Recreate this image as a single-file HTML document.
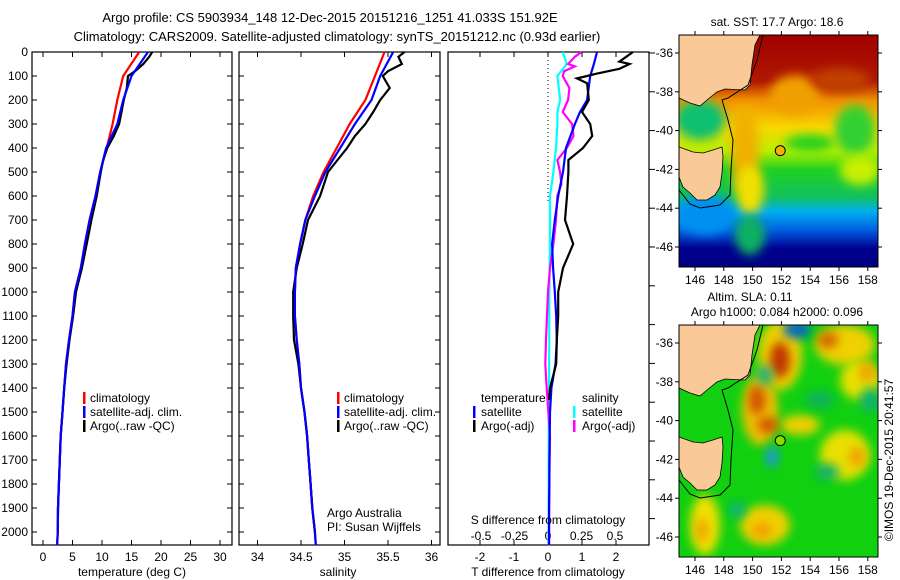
<!DOCTYPE html>
<html><head><meta charset="utf-8">
<style>
html,body{margin:0;padding:0;background:#fff;}
svg{display:block;font-family:"Liberation Sans",sans-serif;}
text{font-size:12px;fill:#000;}
</style></head>
<body>
<svg id="fig" width="900" height="580" viewBox="0 0 900 580" xmlns="http://www.w3.org/2000/svg">
<defs>
<linearGradient id="sstg" x1="0" y1="0" x2="0" y2="1">
<stop offset="0" stop-color="#a00000"/><stop offset="0.2" stop-color="#b01800"/>
<stop offset="0.28" stop-color="#f09000"/><stop offset="0.4" stop-color="#f8d800"/>
<stop offset="0.5" stop-color="#b8f000"/><stop offset="0.58" stop-color="#20d020"/>
<stop offset="0.7" stop-color="#10c060"/><stop offset="0.76" stop-color="#00b0f0"/>
<stop offset="0.84" stop-color="#0060e0"/><stop offset="0.92" stop-color="#000090"/>
<stop offset="1" stop-color="#000080"/></linearGradient>
<filter id="bl" x="-50%" y="-50%" width="200%" height="200%"><feGaussianBlur stdDeviation="5"/></filter>
<clipPath id="c1"><rect x="679" y="35" width="199" height="232"/></clipPath>
<clipPath id="c2"><rect x="679" y="325" width="199" height="232"/></clipPath>
</defs>
<text x="330" y="22" text-anchor="middle" style="font-size:13px">Argo profile: CS 5903934_148 12-Dec-2015 20151216_1251 41.033S 151.92E</text>
<text x="337" y="41" text-anchor="middle" style="font-size:13px">Climatology: CARS2009. Satellite-adjusted climatology: synTS_20151212.nc (0.93d earlier)</text>
<g id="plots"></g>
<g id="maps"></g>
</svg>
<script>
// ---- data ----
const depths = [0,100,200,300,400,500,600,700,800,900,1000,1100,1200,1300,1400,1500,1600,1700,1800,1900,2000,2055];
const tempClim = [16.3,13.6,12.6,11.8,10.8,9.7,8.9,7.9,7.1,6.4,5.4,5.0,4.4,3.9,3.6,3.3,3.0,2.85,2.7,2.55,2.5,2.35];
const tempSat  = [17.8,15.0,13.6,12.6,10.7,9.7,8.9,7.9,7.1,6.4,5.4,5.0,4.4,3.9,3.6,3.3,3.0,2.85,2.7,2.55,2.5,2.4];
const argoDepths = [0,20,50,80,100,150,200,250,300,350,400,450,500,600,700,800,900,1000,1100,1200,1300,1400,1500,1600,1700,1800,1900,2000];
const tempArgo = [18.5,18.0,17.0,15.6,14.4,14.2,13.7,13.3,12.9,12.0,10.9,10.2,9.8,9.1,8.2,7.4,6.6,5.6,5.1,4.5,4.0,3.6,3.3,3.0,2.85,2.7,2.55,2.5];
const salClim = [35.46,35.35,35.24,35.06,34.91,34.76,34.64,34.55,34.49,34.44,34.43,34.43,34.45,34.48,34.5,34.54,34.57,34.59,34.61,34.63,34.66,34.67];
const salSat  = [35.56,35.41,35.31,35.12,34.95,34.78,34.66,34.55,34.49,34.44,34.43,34.43,34.45,34.48,34.5,34.54,34.57,34.59,34.61,34.63,34.66,34.67];
const salArgo = [35.69,35.62,35.66,35.5,35.44,35.52,35.41,35.33,35.24,35.12,35.03,34.92,34.81,34.72,34.58,34.52,34.45,34.41,34.41,34.42,34.47,34.5,34.54,34.57,34.59,34.61,34.63,34.66];
const diffDepths = [0,50,100,200,250,300,400,500,600,700,800,900,1000,1100,1200,1300,1400,1500,1600,1700,1800,1900,2000,2055];
const dTsat = [1.44,1.35,1.24,1.15,0.94,0.79,0.53,0.44,0.3,0.2,0.12,0.15,0.2,0.24,0.26,0.22,0.1,0.06,0.05,0.04,0.04,0.03,0.03,0.03];
const dSsat = [0.11,0.14,0.07,0.09,0.07,0.07,0.06,0.04,0.015,0.015,0.015,0.012,0.01,0.01,0.01,0.008,0.008,0.006,0.006,0.005,0.005,0.005,0.005,0.005];
const argoDiffDepths = [0,20,40,50,70,90,100,110,130,200,250,300,350,400,450,500,600,700,800,900,1000,1100,1200,1300,1400,1450];
const dTargo = [2.5,2.3,2.1,2.4,2.1,1.44,1.15,0.85,1.15,1.2,1.0,1.24,1.3,1.03,0.6,0.6,0.56,0.5,0.74,0.44,0.3,0.3,0.26,0.24,0.06,0.03];
const dSargoDepths = [0,20,50,60,80,100,150,200,250,300,350,400,450,500,550,600,700,800,900,1000,1200,1300,1400,1600,1800,2000,2055];
const dSargo = [0.25,0.2,0.15,0.2,0.12,0.11,0.16,0.15,0.11,0.18,0.19,0.14,0.07,0.09,0.1,0.07,0.06,0.04,0.015,0,-0.015,-0.02,-0.01,0.015,0.01,0.008,0.008];
const depthTicks = [0,100,200,300,400,500,600,700,800,900,1000,1100,1200,1300,1400,1500,1600,1700,1800,1900,2000];
const tempTicks = [0,5,10,15,20,25,30];
const salTicks = [34,34.5,35,35.5,36];
const salTickLabels = ["34","34.5","35","35.5","36"];
const dTTicks = [-2,-1,0,1,2];
const dSTicks = [-0.5,-0.25,0,0.25,0.5];
const lonTicks = [146,148,150,152,154,156,158];
const latTicks = [-36,-38,-40,-42,-44,-46];

// ---- axes ----
const NS='http://www.w3.org/2000/svg';
const yD = d => 52 + 0.24*d;
const xT = t => 43 + 5.9*t;
const xS = s => 257.5 + 87*(s-34);
const xdT = v => 548 + 34*v;
const xdS = v => 548 + 134*v;
const xLon = l => 695 + (l-146)*14.4;
const yLat = (l,off) => off + 53 + (-36-l)*19.4;
const P = document.getElementById('plots');
const M = document.getElementById('maps');
function el(tag, attrs, parent, txt){const e=document.createElementNS(NS,tag);for(const k in attrs)e.setAttribute(k,attrs[k]);if(txt!==undefined)e.textContent=txt;(parent||P).appendChild(e);return e;}
function line(xs, ds, xf, color, name){
  const pts = xs.map((v,i)=>xf(v).toFixed(1)+','+yD(ds[i]).toFixed(1)).join(' ');
  const e = el('polyline',{points:pts,fill:'none',stroke:color,'stroke-width':2.2});
  
  
}
function frame(x0,x1,name){
  const r = el('rect',{x:x0,y:52,width:x1-x0,height:493,fill:'none',stroke:'#000','stroke-width':1.2});
  
  
}
function xticks(vals, f, labels, ylab){
  vals.forEach((v,i)=>{
    const x=f(v);
    el('line',{x1:x,x2:x,y1:52,y2:57,stroke:'#000'});
    el('line',{x1:x,x2:x,y1:540,y2:545,stroke:'#000'});
    if(labels){const t=el('text',{x:x,y:ylab,'text-anchor':'middle'},P,labels[i]);
      
      }
  });
}
function ytick(x0,x1){depthTicks.forEach(d=>{const y=yD(d);el('line',{x1:x0,x2:x0+5,y1:y,y2:y,stroke:'#000'});el('line',{x1:x1-5,x2:x1,y1:y,y2:y,stroke:'#000'});});}

// panel 1
frame(32,232,'temperature-panel');
ytick(32,232);
depthTicks.forEach(d=>{const t=el('text',{x:28,y:yD(d)+4,'text-anchor':'end'},P,String(d));
  
  });
xticks(tempTicks,xT,tempTicks.map(String),561);
line(tempClim,depths,xT,'#ff0000','temp-climatology-line');
line(tempArgo,argoDepths,xT,'#000000','temp-argo-line');
line(tempSat,depths,xT,'#0000ff','temp-satellite-line');
// panel 2
frame(239,440,'salinity-panel');
ytick(239,440);
xticks(salTicks,xS,salTickLabels,561);
line(salClim,depths,xS,'#ff0000','sal-climatology-line');
line(salArgo,argoDepths,xS,'#000000','sal-argo-line');
line(salSat,depths,xS,'#0000ff','sal-satellite-line');
// panel 3
frame(448,649,'difference-panel');
dTTicks.forEach(v=>{const x=xdT(v);el('line',{x1:x,x2:x,y1:52,y2:57,stroke:'#000'});el('line',{x1:x,x2:x,y1:540,y2:545,stroke:'#000'});
  const t=el('text',{x:x,y:561,'text-anchor':'middle'},P,String(v));
  
  });
dSTicks.forEach(v=>{const t=el('text',{x:xdS(v),y:540,'text-anchor':'middle'},P,String(v).replace('0.','.').replace('-.','-0.').replace(/^\./,'0.'));
  
  });
for(let y=53;y<=545;y+=38.8){el('line',{x1:649,x2:655,y1:y,y2:y,stroke:'#000'});}
el('line',{x1:548,x2:548,y1:52,y2:202,stroke:'#000','stroke-dasharray':'1,3'});
line(dSsat,diffDepths,xdS,'#00ffff','sdiff-satellite-line');
line(dSargo,dSargoDepths,xdS,'#ff00ff','sdiff-argo-line');
line(dTsat,diffDepths,xdT,'#0000ff','tdiff-satellite-line');
line(dTargo,argoDiffDepths,xdT,'#000000','tdiff-argo-line');

function lbl(x,y,s,name,anchor){const t=el('text',{x:x,y:y,'text-anchor':anchor||'start'},P,s);
  
  return t;}
function mark(x,y,c){el('rect',{x:x,y:y-10,width:2.5,height:12,fill:c});}
// legends
[['climatology','#ff0000'],['satellite-adj. clim.','#0000ff'],['Argo(..raw -QC)','#000000']].forEach((it,i)=>{
  const y=402+i*14; mark(83,y,it[1]); lbl(90,y,it[0],'legend-entry'); mark(337,y,it[1]); lbl(344,y,it[0],'legend-entry');});
lbl(327,517,'Argo Australia','credit-line');
lbl(327,531,'PI: Susan Wijffels','pi-line');
lbl(481,402,'temperature','legend-heading');
lbl(582,402,'salinity','legend-heading');
mark(473,416,'#0000ff'); lbl(481,416,'satellite','legend-entry');
mark(473,430,'#000000'); lbl(481,430,'Argo(-adj)','legend-entry');
mark(573,416,'#00ffff'); lbl(582,416,'satellite','legend-entry');
mark(573,430,'#ff00ff'); lbl(582,430,'Argo(-adj)','legend-entry');
lbl(548,524,'S difference from climatology','s-diff-axis-title','middle');
lbl(132,576,'temperature (deg C)','x-axis-title','middle');
lbl(338,576,'salinity','x-axis-title','middle');
lbl(548,576,'T difference from climatology','t-diff-axis-title','middle');

// ---- maps ----
function land(off,g){
  const m=[[679,35],[760,35],[755,45],[752,65],[750,85],[745,90],[725,89],[717,92],[707,100],[700,106],[690,103],[679,98]];
  const t=[[679,147],[693,152],[703,153],[713,150],[722,147],[723,157],[722,173],[720,187],[715,195],[707,200],[697,200],[690,193],[683,187],[679,177]];
  [m,t].forEach(p=>el('polygon',{points:p.map(q=>q[0]+','+(q[1]+off)).join(' '),fill:'#f9c998',stroke:'#000','stroke-width':0.8},g));
  const c=[[763,35],[757,60],[748,85],[728,98],[722,100],[728,120],[733,140],[731,170],[730,195],[720,205],[700,208],[690,204],[679,190]];
  el('polyline',{points:c.map(q=>q[0]+','+(q[1]+off)).join(' '),fill:'none',stroke:'#000','stroke-width':1},g);
}
function mapAxes(off,name){
  const r=el('rect',{x:679,y:35+off,width:199,height:232,fill:'none',stroke:'#000'},M);
  
  
  lonTicks.forEach(l=>{const x=xLon(l);el('line',{x1:x,x2:x,y1:35+off-4,y2:35+off,stroke:'#000'},M);el('line',{x1:x,x2:x,y1:267+off,y2:271+off,stroke:'#000'},M);
    const t=el('text',{x:x,y:284+off,'text-anchor':'middle'},M,String(l));
    
    });
  latTicks.forEach(l=>{const y=yLat(l,off);el('line',{x1:675,x2:679,y1:y,y2:y,stroke:'#000'},M);el('line',{x1:878,x2:882,y1:y,y2:y,stroke:'#000'},M);
    const t=el('text',{x:673,y:y+4,'text-anchor':'end'},M,String(l));
    
    });
}
// SST map
const g1=el('g',{'clip-path':'url(#c1)'},M);


el('rect',{x:679,y:35,width:199,height:232,fill:'url(#sstg)'},g1);
const sstBlobs=[[745,150,14,45,'#f0b000'],[750,190,14,25,'#f0e000'],[700,120,25,20,'#10c070'],[705,215,30,20,'#0090f0'],[795,95,25,20,'#f0a000'],[840,80,30,12,'#c04000'],[810,143,25,8,'#20d020'],[855,130,20,25,'#30d030'],[860,170,20,15,'#c8f000'],[750,235,15,20,'#10b060']];
sstBlobs.forEach(b=>el('ellipse',{cx:b[0],cy:b[1],rx:b[2],ry:b[3],fill:b[4],filter:'url(#bl)'},g1));
land(0,g1);
el('circle',{cx:xLon(151.92),cy:yLat(-41.033,0),r:5,fill:'#f8b000',stroke:'#000'},g1);
mapAxes(0,'sst-map-frame');
const t1=el('text',{x:777,y:26,'text-anchor':'middle'},M,'sat. SST: 17.7 Argo: 18.6');


// SLA map
const g2=el('g',{'clip-path':'url(#c2)'},M);


el('rect',{x:679,y:325,width:199,height:232,fill:'#10d010'},g2);
const slaBlobs=[[780,355,22,35,'#f0d000'],[760,410,18,35,'#f0c000'],[845,345,30,20,'#f0d000'],[860,380,20,20,'#e8e000'],[705,525,15,30,'#f0e000'],[765,525,25,20,'#f0d000'],[845,455,25,25,'#e8e000'],[800,425,20,10,'#f0d000'],[780,360,10,18,'#c03000'],[757,400,8,15,'#d05000'],[768,425,10,8,'#d05000'],[828,340,10,8,'#d06000'],[867,372,8,10,'#f0a000'],[857,457,8,10,'#f0a000'],[762,530,10,8,'#f0a000'],[702,530,6,12,'#f0a000'],[797,330,14,8,'#0060d0'],[772,457,6,10,'#2090f0'],[827,472,12,8,'#10b070'],[737,510,8,8,'#10b080'],[765,375,8,10,'#20b080'],[870,400,10,12,'#10b070'],[820,400,15,8,'#10b060']];
slaBlobs.forEach(b=>el('ellipse',{cx:b[0],cy:b[1],rx:b[2],ry:b[3],fill:b[4],filter:'url(#bl)'},g2));
land(290,g2);
el('circle',{cx:xLon(151.92),cy:yLat(-41.033,290),r:5,fill:'#80e000',stroke:'#000'},g2);
mapAxes(290,'sla-map-frame');
const t2=el('text',{x:750,y:301,'text-anchor':'middle'},M,'Altim. SLA: 0.11');


const t3=el('text',{x:777,y:316,'text-anchor':'middle'},M,'Argo h1000: 0.084 h2000: 0.096');


const t4=el('text',{x:0,y:0,'text-anchor':'middle',transform:'translate(893,460) rotate(-90)'},M,'©IMOS 19-Dec-2015 20:41:57');


</script>
</body></html>
